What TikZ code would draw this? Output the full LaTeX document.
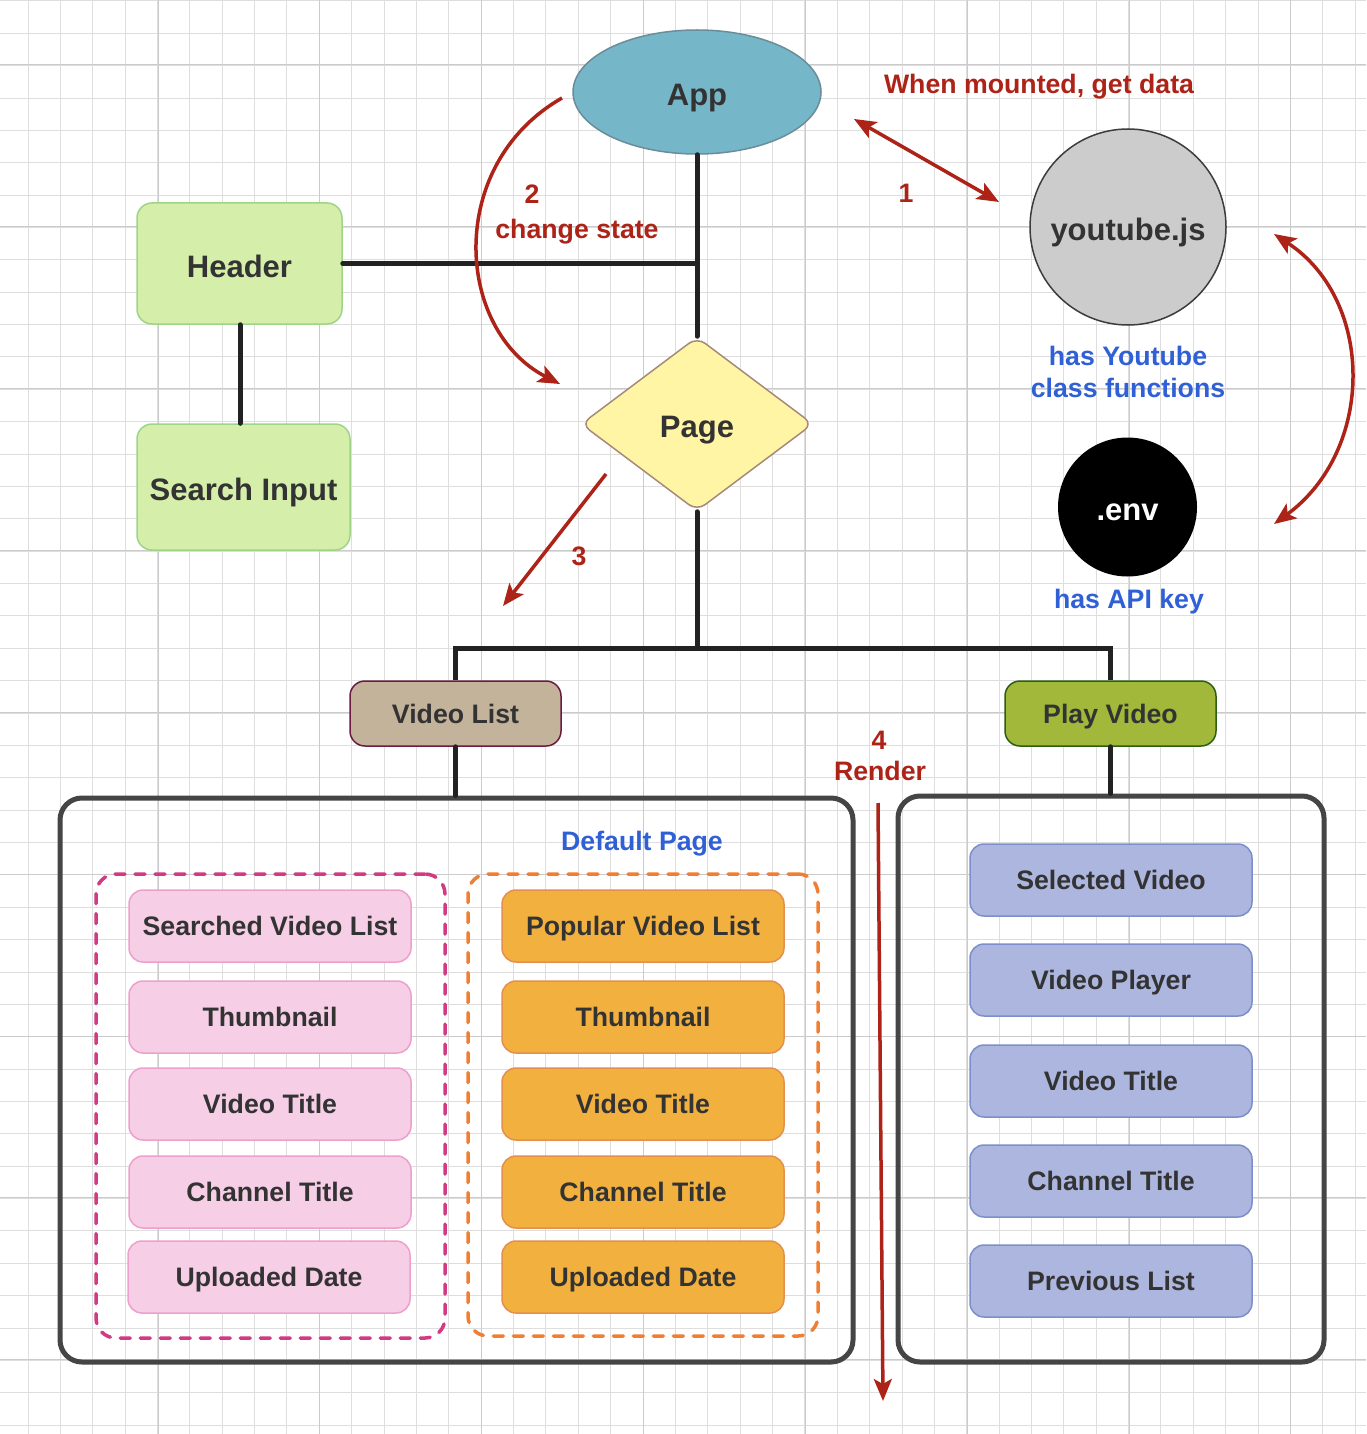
\documentclass[tikz,border=0pt]{standalone}
\usepackage{fontspec}
\setmainfont{Liberation Sans}
\usetikzlibrary{shapes.geometric,arrows.meta,calc}
\definecolor{txt}{HTML}{333333}
\definecolor{gridminor}{HTML}{DEDEDE}
\definecolor{gridmajor}{HTML}{CBCBCB}
\definecolor{conncol}{HTML}{222222}
\definecolor{boxcol}{HTML}{454545}
\definecolor{appfill}{HTML}{75B7C8}
\definecolor{appdraw}{HTML}{6A8D99}
\definecolor{ytfill}{HTML}{CCCCCC}
\definecolor{ytdraw}{HTML}{3C3C3C}
\definecolor{greenfill}{HTML}{D5EFAB}
\definecolor{greendraw}{HTML}{9DD48A}
\definecolor{pagefill}{HTML}{FFF5A5}
\definecolor{pagedraw}{HTML}{A58C7A}
\definecolor{vlfill}{HTML}{C3B39B}
\definecolor{vldraw}{HTML}{6B1B43}
\definecolor{pvfill}{HTML}{A1B83A}
\definecolor{pvdraw}{HTML}{2E5E16}
\definecolor{pinkfill}{HTML}{F6CEE6}
\definecolor{pinkdraw}{HTML}{EE9FCC}
\definecolor{pinkdash}{HTML}{D23A84}
\definecolor{orfill}{HTML}{F2B13F}
\definecolor{ordraw}{HTML}{E48F4B}
\definecolor{ordash}{HTML}{F07F33}
\definecolor{blfill}{HTML}{ACB6DE}
\definecolor{bldraw}{HTML}{7C8FCA}
\definecolor{redc}{HTML}{AD2317}
\definecolor{bluetxt}{HTML}{3060D5}
\tikzset{
  bigfont/.style={font=\fontsize{31}{36}\selectfont\bfseries, text height=27pt, text depth=0pt},
  smallfont/.style={font=\fontsize{26.7}{32}\selectfont\bfseries, text height=19pt, text depth=0pt},
  conn/.style={draw=conncol, line width=5pt, line cap=round},
  greenbox/.style={rectangle, rounded corners=15pt, fill=greenfill, draw=greendraw, line width=1.5pt, inner sep=0pt, bigfont, text=txt},
  item/.style={rectangle, rounded corners=14pt, minimum width=282pt, minimum height=72pt, inner sep=0pt, line width=1.5pt, smallfont, text=txt},
  pinkitem/.style={item, fill=pinkfill, draw=pinkdraw},
  oritem/.style={item, fill=orfill, draw=ordraw},
  blitem/.style={item, fill=blfill, draw=bldraw},
  container/.style={rectangle, rounded corners=22pt, draw=boxcol, line width=5pt, inner sep=0pt},
  dashbox/.style={rectangle, rounded corners=20pt, line width=3.5pt, dash pattern=on 10pt off 10pt, line cap=round, inner sep=0pt},
  redlabel/.style={smallfont, text=redc, inner sep=0pt},
  bluelabel/.style={smallfont, text=bluetxt, inner sep=0pt},
  redarrow/.style={draw=redc, line width=3.5pt},
  tip/.tip={Stealth[length=22pt, width=18pt, inset=5pt]}
}
\begin{document}
\begin{tikzpicture}[x=1pt,y=-1pt]
\fill[white] (0,0) rectangle (1366,1434);
\useasboundingbox (0,0) rectangle (1366,1434);
\begin{scope}
\clip (0,0) rectangle (1366,1434);
\foreach \i in {0,...,42} \draw[gridminor, line width=1pt] ({28+32.37*\i},0) -- ({28+32.37*\i},1434);
\foreach \i in {0,...,44} \draw[gridminor, line width=1pt] (0,{0.9+32.37*\i}) -- (1366,{0.9+32.37*\i});
\foreach \i in {0,...,8} \draw[gridmajor, line width=1pt] ({-3.85+161.85*\i},0) -- ({-3.85+161.85*\i},1434);
\foreach \i in {0,...,8} \draw[gridmajor, line width=1pt] (0,{65+161.85*\i}) -- (1366,{65+161.85*\i});
\end{scope}

% containers
\node[container, minimum width=793pt, minimum height=564pt] (leftbox) at (456.5,1080) {};
\node[container, minimum width=426pt, minimum height=566pt] (rightbox) at (1111,1079) {};
\node[dashbox, draw=pinkdash, minimum width=349pt, minimum height=464pt] (pinkgroup) at (270.5,1106) {};
\node[dashbox, draw=ordash, minimum width=350pt, minimum height=462pt] (orgroup) at (643,1105) {};

% top nodes
\node[ellipse, minimum width=248pt, minimum height=124pt, inner sep=0pt, fill=appfill, draw=appdraw, line width=1.5pt, bigfont, text=txt] (app) at (697,92) {App};
\node[circle, minimum size=196pt, inner sep=0pt, fill=ytfill, draw=ytdraw, line width=1.5pt, bigfont, text=txt] (yt) at (1128,227) {youtube.js};
\node[circle, minimum size=139pt, inner sep=0pt, fill=black, bigfont, text=white] (env) at (1127.5,507) {.env};
\node[greenbox, minimum width=205pt, minimum height=121pt] (header) at (239.5,263.5) {Header};
\node[greenbox, minimum width=213pt, minimum height=126pt] (search) at (243.5,487) {Search Input};
\node[diamond, minimum width=232pt, minimum height=174pt, inner sep=0pt, rounded corners=10pt, fill=pagefill, draw=pagedraw, line width=1.5pt, bigfont, text=txt] (page) at (697,424) {Page};
\node[rectangle, rounded corners=15pt, minimum width=211pt, minimum height=65pt, inner sep=0pt, fill=vlfill, draw=vldraw, line width=1.5pt, smallfont, text=txt] (vlist) at (455.5,713.5) {Video List};
\node[rectangle, rounded corners=15pt, minimum width=211pt, minimum height=65pt, inner sep=0pt, fill=pvfill, draw=pvdraw, line width=1.5pt, smallfont, text=txt] (pvideo) at (1110.5,713.5) {Play Video};

% items
\node[pinkitem] (p1) at (270,926) {Searched Video List};
\node[pinkitem] (p2) at (270,1017) {Thumbnail};
\node[pinkitem] (p3) at (270,1104) {Video Title};
\node[pinkitem] (p4) at (270,1192) {Channel Title};
\node[pinkitem] (p5) at (269,1277) {Uploaded Date};
\node[oritem] (o1) at (643,926) {Popular Video List};
\node[oritem] (o2) at (643,1017) {Thumbnail};
\node[oritem] (o3) at (643,1104) {Video Title};
\node[oritem] (o4) at (643,1192) {Channel Title};
\node[oritem] (o5) at (643,1277) {Uploaded Date};
\node[blitem] (b1) at (1111,880) {Selected Video};
\node[blitem] (b2) at (1111,980) {Video Player};
\node[blitem] (b3) at (1111,1081) {Video Title};
\node[blitem] (b4) at (1111,1181) {Channel Title};
\node[blitem] (b5) at (1111,1281) {Previous List};

% connectors
\coordinate (junc) at (697,648);
\draw[conn] (header.east) -- (header.east -| app.south);
\draw[conn] (app.south) -- (page.north);
\draw[conn] (header.south -| 240,0) -- (search.north -| 240,0);
\draw[conn] (page.south) -- (junc);
\draw[conn, line cap=butt] (vlist.north) |- (junc) -| (pvideo.north);
\draw[conn] (vlist.south) -- (vlist.south |- leftbox.north);
\draw[conn] (pvideo.south) -- (pvideo.south |- rightbox.north);

% labels
\node[redlabel] (lmount) at (1039,84) {When mounted, get data};
\node[redlabel] (l1) at (906,193) {1};
\node[redlabel] (l2) at (532,194) {2};
\node[redlabel] (lchange) at (577,229) {change state};
\node[redlabel] (l3) at (579,556) {3};
\node[redlabel] (l4) at (879,740) {4};
\node[redlabel] (lrender) at (880,771) {Render};
\node[bluelabel] (lyt1) at (1128,356) {has Youtube};
\node[bluelabel] (lyt2) at (1128,388) {class functions};
\node[bluelabel] (lenv) at (1129,599) {has API key};
\node[bluelabel] (ldef) at (642,841) {Default Page};

% red arrows
\coordinate (a1s) at (854,119);
\coordinate (a1e) at (999,202);
\coordinate (a2s) at (562,98);
\coordinate (a2e) at (560,384);
\coordinate (a3s) at (606,474);
\coordinate (a3e) at (503,606);
\coordinate (a4s) at (878,803);
\coordinate (a4e) at (883,1401);
\coordinate (a5s) at (1274,234);
\coordinate (a5e) at (1274,524);
\draw[redarrow, tip-tip] (a1s) -- (a1e);
\draw[redarrow, -tip] (a2s) .. controls (445,165) and (455,330) .. (a2e);
\draw[redarrow, -tip] (a3s) -- (a3e);
\draw[redarrow, -tip] (a4s) -- (a4e);
\draw[redarrow, tip-tip] (a5s) .. controls (1375,300) and (1375,450) .. (a5e);
\end{tikzpicture}
\end{document}
